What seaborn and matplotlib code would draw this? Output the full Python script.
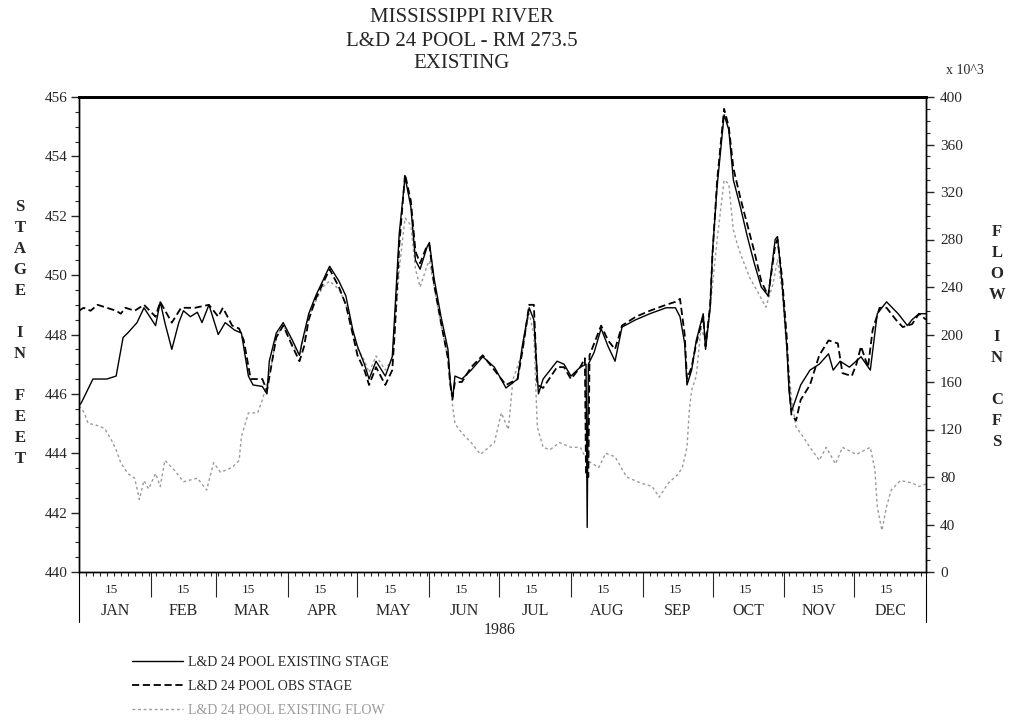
import numpy as np
import pandas as pd
import matplotlib
matplotlib.use("Agg")
import matplotlib.pyplot as plt
import matplotlib.transforms as mtransforms
from matplotlib.lines import Line2D
import seaborn as sns

# day of year 1986 (0 = Jan 1)
stage_day = [0, 1, 6, 12, 16, 19, 21, 25, 28, 33, 35, 37, 40, 43, 45, 48, 51, 53, 56, 60,
             63, 67, 70, 73, 75, 79, 81, 82, 85, 88, 92, 95, 96, 99, 102, 105, 108, 112, 115, 118,
             120, 123, 125, 128, 132, 135, 136, 138, 140.5, 143, 145, 147, 150, 151, 153, 156, 159, 160, 161, 162,
             165, 169, 174, 179, 184, 189, 191, 194, 196, 198, 200, 206, 209, 212, 216, 218.5, 219, 219.5, 222, 225,
             228, 231, 234, 240, 246, 253, 257, 259, 261, 262, 264, 266, 269, 270, 272, 273, 275, 278, 280, 282,
             285, 288, 291, 294, 297, 300, 301, 303, 305, 306, 307, 311, 315, 319, 323, 325, 328, 332, 337, 341,
             344, 348, 353, 357, 359, 362, 365]
stage_ft = [445.6, 445.7, 446.5, 446.5, 446.6, 447.9, 448.05, 448.4, 448.9, 448.3, 449.1, 448.4, 447.5, 448.4, 448.8, 448.6, 448.75, 448.4, 449.0, 448.0,
            448.4, 448.15, 448.05, 446.6, 446.3, 446.25, 446.0, 447.1, 448.05, 448.4, 447.8, 447.3, 447.7, 448.7, 449.3, 449.8, 450.3, 449.8, 449.3, 448.15,
            447.6, 447.0, 446.5, 447.1, 446.6, 447.25, 448.6, 451.4, 453.3, 452.3, 450.5, 450.2, 450.95, 451.1, 449.9, 448.6, 447.5, 446.4, 445.8, 446.6,
            446.5, 446.8, 447.25, 446.9, 446.2, 446.5, 447.6, 448.9, 448.5, 446.0, 446.5, 447.1, 447.0, 446.6, 446.9, 447.0, 441.5, 447.0, 447.4, 448.2,
            447.6, 447.1, 448.25, 448.5, 448.7, 448.9, 448.9, 448.6, 447.7, 446.3, 446.8, 447.8, 448.7, 447.5, 448.9, 450.8, 453.0, 455.4, 454.9, 453.2,
            452.3, 451.3, 450.4, 449.6, 449.3, 451.2, 451.3, 449.7, 447.6, 446.1, 445.4, 446.3, 446.8, 447.0, 447.35, 446.8, 447.1, 446.9, 447.25, 446.8,
            448.7, 449.1, 448.7, 448.3, 448.5, 448.7, 448.7]

obs_day = [0, 2, 5, 8, 12, 16, 18, 20, 24, 28, 33, 35, 40, 44, 50, 56, 60, 62, 66, 69,
           71, 74, 79, 81, 83, 85, 88, 92, 95, 97, 99, 102, 105, 108, 112, 115, 118, 120, 123, 125,
           128, 132, 135, 136, 138, 140.5, 143, 145, 147, 150, 151, 153, 156, 159, 160, 161, 162, 165, 169, 174,
           179, 184, 189, 191, 194, 196, 197.5, 200, 206, 209, 212, 216, 218, 218.5, 219.5, 220, 225, 228, 231, 234,
           240, 246, 253, 257, 259, 261, 262, 264, 266, 269, 270, 272, 273, 275, 278, 280, 282, 285, 288, 291,
           294, 297, 300, 301, 303, 305, 306, 307, 309, 311, 315, 319, 323, 327, 329, 333, 335, 337, 340, 342,
           345, 348, 352, 355, 359, 362, 365]
obs_ft = [448.8, 448.9, 448.8, 449.0, 448.9, 448.8, 448.7, 448.9, 448.8, 449.0, 448.6, 449.1, 448.4, 448.9, 448.9, 449.0, 448.6, 448.9, 448.3, 448.2,
          447.8, 446.5, 446.5, 446.1, 447.0, 447.9, 448.3, 447.6, 447.1, 447.6, 448.5, 449.2, 449.7, 450.2, 449.6, 449.0, 448.0, 447.3, 446.8, 446.3,
          446.9, 446.3, 446.8, 448.0, 451.0, 453.4, 452.5, 450.8, 450.4, 451.0, 451.0, 449.7, 448.4, 447.2, 446.3, 445.9, 446.4, 446.4, 446.9, 447.3,
          446.8, 446.3, 446.5, 447.4, 449.0, 449.0, 446.3, 446.2, 446.9, 446.9, 446.5, 446.9, 447.2, 443.2, 443.2, 447.3, 448.3, 447.8, 447.5, 448.3,
          448.6, 448.8, 449.0, 449.1, 449.2, 448.0, 446.5, 446.9, 447.7, 448.6, 447.6, 449.0, 450.7, 453.2, 455.6, 455.0, 453.6, 452.6, 451.7, 450.8,
          449.8, 449.3, 451.0, 451.2, 449.9, 447.9, 446.3, 445.3, 445.1, 445.8, 446.3, 447.3, 447.8, 447.7, 446.7, 446.6, 447.0, 447.6, 446.9, 448.15,
          448.9, 448.9, 448.5, 448.25, 448.35, 448.7, 448.5]

flow_day = [0, 2, 4, 7, 11, 14, 16, 18, 21, 24, 26, 28, 30, 33, 35, 37, 41, 45, 51, 55,
            58, 61, 66, 69, 70, 73, 77, 79, 81, 83, 85, 88, 92, 95, 99, 102, 105, 108, 112, 115,
            118, 120, 123, 125, 128, 132, 135, 136, 138, 140.5, 143, 145, 147, 150, 151, 153, 156, 159, 160, 161,
            162, 165, 169, 173, 179, 182, 185, 187, 191, 194, 196, 197.5, 200, 203, 207, 212, 216, 219, 224, 227,
            231, 236, 242, 247, 250, 254, 258, 260, 262, 263, 264, 266, 268, 270, 272, 275, 278, 280, 281, 282,
            284, 286, 289, 293, 296, 299, 301, 303, 305, 307, 309, 312, 315, 319, 322, 326, 329, 335, 341, 343,
            344, 346, 348, 350, 354, 359, 362, 365]
flow_kcfs = [140, 135, 125, 124, 121, 111, 103, 92, 83, 79, 61, 77, 70, 83, 72, 94, 86, 76, 79, 69,
             92, 84, 88, 94, 114, 134, 134, 145, 159, 175, 198, 208, 192, 182, 215, 228, 240, 245, 238, 226,
             200, 188, 178, 168, 182, 170, 180, 200, 255, 298, 292, 255, 240, 258, 262, 240, 208, 180, 158, 140,
             125, 117, 109, 99, 109, 134, 120, 162, 185, 218, 200, 122, 105, 103, 109, 105, 105, 94, 88, 100,
             97, 80, 75, 72, 63, 75, 82, 88, 105, 136, 153, 165, 205, 195, 223, 280, 330, 327, 307, 288,
             274, 263, 248, 234, 223, 242, 263, 237, 187, 147, 122, 114, 105, 94, 105, 91, 105, 99, 105, 86,
             55, 35, 55, 69, 77, 75, 72, 74]

month_names = ["JAN", "FEB", "MAR", "APR", "MAY", "JUN", "JUL", "AUG", "SEP", "OCT", "NOV", "DEC"]
month_start = [0, 31, 59, 90, 120, 151, 181, 212, 243, 273, 304, 334, 365]

stage_df = pd.DataFrame({"day": stage_day, "stage": stage_ft})
obs_df = pd.DataFrame({"day": obs_day, "stage": obs_ft})
flow_df = pd.DataFrame({"day": flow_day, "flow": flow_kcfs})

sns.set_style("white")
plt.rcParams["font.family"] = ["Liberation Serif", "DejaVu Serif"]

W, H = 1009, 723
fig = plt.figure(figsize=(W / 100, H / 100), dpi=100)
ax = fig.add_axes([79 / W, 1 - 572 / H, (926 - 79) / W, (572 - 97) / H])
ax2 = ax.twinx()
ax.set_zorder(ax2.get_zorder() + 1)
ax.patch.set_visible(False)

flow_color = "#9a9a9a"
sns.lineplot(data=flow_df, x="day", y="flow", ax=ax2, color=flow_color, lw=1.0,
             linestyle=(0, (2, 2)), estimator=None, sort=False)
sns.lineplot(data=stage_df, x="day", y="stage", ax=ax, color="black", lw=1.0,
             estimator=None, sort=False)
sns.lineplot(data=obs_df, x="day", y="stage", ax=ax, color="black", lw=1.3,
             linestyle=(0, (4, 2)), estimator=None, sort=False)

ax.set_xlim(0, 365)
ax.set_ylim(440, 456)
ax2.set_ylim(0, 400)
ax.set_xlabel("")
ax.set_ylabel("")
ax2.set_ylabel("")

for a in (ax, ax2):
    for s in a.spines.values():
        s.set_color("black")
        s.set_linewidth(1.0)
ax.spines["top"].set_linewidth(2.0)
ax2.spines["top"].set_linewidth(2.0)

# left axis
ax.set_yticks(np.arange(440, 457, 2))
ax.set_yticks(np.arange(440, 456.01, 0.5), minor=True)
ax.tick_params(axis="y", which="major", direction="out", length=6, width=1, labelsize=11, pad=2, left=True)
ax.tick_params(axis="y", which="minor", direction="out", length=3, width=0.8, left=True)

# right axis
ax2.set_yticks(np.arange(0, 401, 40))
ax2.set_yticks(np.arange(0, 401, 10), minor=True)
ax2.tick_params(axis="y", which="major", direction="out", length=6, width=1, labelsize=11, pad=4, right=True)
ax2.tick_params(axis="y", which="minor", direction="out", length=3, width=0.8, right=True)

# x axis: month separators, ruler ticks, text labels
ax.set_xticks(month_start[1:-1])
ax.set_xticklabels([])
ax.set_xticks(np.arange(0, 366, 3), minor=True)
ax.tick_params(axis="x", which="major", direction="out", length=18, width=0.8, bottom=True)
ax.tick_params(axis="x", which="minor", direction="out", length=3, width=0.8, bottom=True)

trans = mtransforms.blended_transform_factory(ax.transData, ax.transAxes)
for xe in (0, 1):
    ax.add_line(Line2D([xe, xe], [0, -0.105], transform=ax.transAxes, color="black",
                       lw=0.8, clip_on=False))
for i, name in enumerate(month_names):
    ax.text(month_start[i] + 14, -0.038, "15", transform=trans, ha="center", va="center", fontsize=9.5)
    mid = (month_start[i] + month_start[i + 1]) / 2
    ax.text(mid, -0.082, name, transform=trans, ha="center", va="center", fontsize=11.5)
ax.text(0.497, -0.123, "1986", transform=ax.transAxes, ha="center", va="center", fontsize=11.5)

# titles
fig.text(462 / W, 1 - 18 / H, "MISSISSIPPI RIVER", ha="center", va="center", fontsize=15)
fig.text(462 / W, 1 - 41 / H, "L&D 24 POOL - RM 273.5", ha="center", va="center", fontsize=15)
fig.text(462 / W, 1 - 64 / H, "EXISTING", ha="center", va="center", fontsize=15)
fig.text(965 / W, 1 - 70 / H, "x 10^3", ha="center", va="center", fontsize=10)

# stacked axis titles
left_letters = ["S", "T", "A", "G", "E", "", "I", "N", "", "F", "E", "E", "T"]
for k, ch in enumerate(left_letters):
    fig.text(20 / W, 1 - (207 + 21 * k) / H, ch, ha="center", va="center", fontsize=12, fontweight="bold")
right_letters = ["F", "L", "O", "W", "", "I", "N", "", "C", "F", "S"]
for k, ch in enumerate(right_letters):
    fig.text(997 / W, 1 - (232 + 21 * k) / H, ch, ha="center", va="center", fontsize=12, fontweight="bold")

handles = [
    Line2D([], [], color="black", lw=1.0),
    Line2D([], [], color="black", lw=1.3, linestyle=(0, (4, 2))),
    Line2D([], [], color=flow_color, lw=1.0, linestyle=(0, (2, 2))),
]
labels = ["L&D 24 POOL EXISTING STAGE", "L&D 24 POOL OBS STAGE", "L&D 24 POOL EXISTING FLOW"]
leg = fig.legend(handles, labels, loc="upper left", bbox_to_anchor=(132 / W, 1 - 656 / H),
                 frameon=False, fontsize=10, handlelength=3.7, handletextpad=0.3, labelspacing=0.8,
                 borderaxespad=0, borderpad=0)
leg.get_texts()[2].set_color(flow_color)

fig.savefig("out.png", dpi=100)
